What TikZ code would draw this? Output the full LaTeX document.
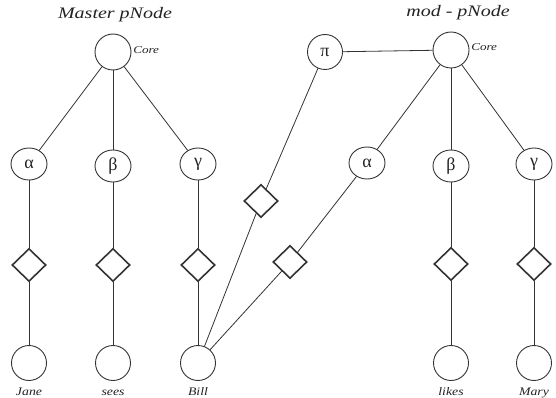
\documentclass[tikz,border=0pt]{standalone}
\usepackage{fontspec}
\setmainfont{Liberation Serif}
\usetikzlibrary{shapes.geometric}
\definecolor{ink}{HTML}{333333}
\definecolor{txt}{HTML}{222222}
\tikzset{
  circ/.style={circle, draw=ink, line width=0.9pt, minimum size=35pt, inner sep=0pt},
  gcirc/.style={ellipse, draw=ink, line width=0.9pt, minimum width=36pt, minimum height=32pt, inner sep=0pt, font=\fontsize{18}{18}\selectfont, text=txt},
  dia/.style={diamond, draw=ink, line width=1.6pt, minimum width=34pt, minimum height=33pt, inner sep=0pt},
  conn/.style={draw=ink, line width=0.8pt},
  title/.style={font=\fontsize{16}{16}\selectfont\itshape, xscale=1.25, text=txt, inner sep=0pt},
  corelab/.style={font=\fontsize{10.5}{10.5}\selectfont\itshape, xscale=1.25, text=txt, inner sep=0pt, anchor=west},
  wordlab/.style={font=\fontsize{11.5}{11.5}\selectfont\itshape, xscale=1.2, text=txt, inner sep=0pt, anchor=base}
}
\begin{document}
\begin{tikzpicture}[x=1pt, y=-1pt]
\useasboundingbox (0,0) rectangle (556,398);
% titles
\node[title] (t1) at (115,15) {Master pNode};
\node[title] (t2) at (458,13) {mod - pNode};
% master pNode
\node[circ, minimum size=36pt] (mcore) at (113,52) {};
\node[corelab] (mcl) at (133,50) {Core};
\node[gcirc] (ma) at (29,164) {α};
\node[gcirc] (mb) at (113,166) {β};
\node[gcirc] (mg) at (198,164) {γ};
\node[dia] (md1) at (29,265) {};
\node[dia] (md2) at (113,265) {};
\node[dia] (md3) at (198,265) {};
\node[circ] (jane) at (29,363) {};
\node[circ] (sees) at (113,363) {};
\node[circ] (bill) at (198,363) {};
\node[wordlab] (ljane) at (29,395) {Jane};
\node[wordlab] (lsees) at (113,395) {sees};
\node[wordlab] (lbill) at (198,395) {Bill};
% mod pNode
\node[circ, minimum size=36pt] (rcore) at (451,50) {};
\node[corelab] (rcl) at (471,47) {Core};
\node[circ, font=\fontsize{18}{18}\selectfont, text=txt] (pi) at (325,52) {π};
\node[gcirc] (ra) at (367,163) {α};
\node[gcirc] (rb) at (451,166) {β};
\node[gcirc] (rg) at (534,164) {γ};
\node[dia] (pid) at (261,201) {};
\node[dia] (rad) at (290,262) {};
\node[dia] (rbd) at (451,264) {};
\node[dia] (rgd) at (534,264) {};
\node[circ] (likes) at (451,363) {};
\node[circ] (mary) at (534,363) {};
\node[wordlab] (llikes) at (451,395) {likes};
\node[wordlab] (lmary) at (534,395) {Mary};
% connectors master
\draw[conn] (mcore) -- (ma);
\draw[conn] (mcore) -- (mb);
\draw[conn] (mcore) -- (mg);
\draw[conn] (ma) -- (md1) -- (jane);
\draw[conn] (mb) -- (md2) -- (sees);
\draw[conn] (mg) -- (md3) -- (bill);
% connectors mod
\draw[conn] (pi) -- (rcore);
\draw[conn] (rcore) -- (ra);
\draw[conn] (rcore) -- (rb);
\draw[conn] (rcore) -- (rg);
\draw[conn] (rb) -- (rbd) -- (likes);
\draw[conn] (rg) -- (rgd) -- (mary);
\draw[conn] (pi) -- (pid) -- (bill);
\draw[conn] (ra) -- (rad) -- (bill);
\end{tikzpicture}
\end{document}
